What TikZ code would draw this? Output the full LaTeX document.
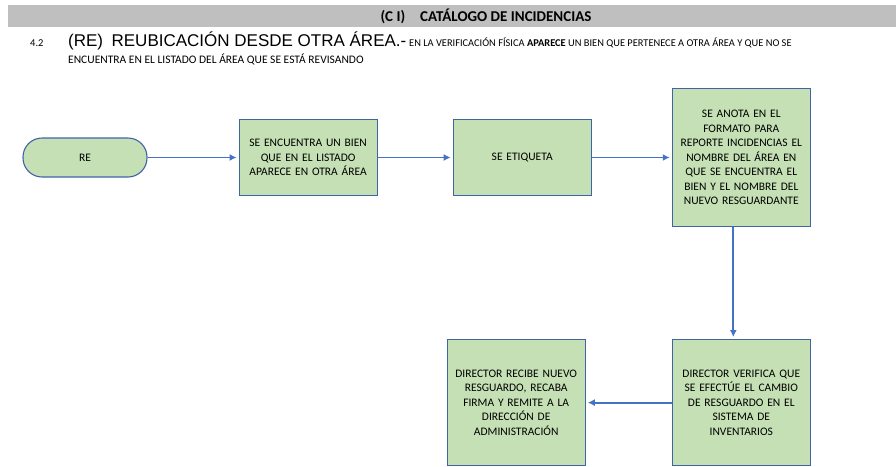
\documentclass[tikz,border=0pt]{standalone}
\usepackage{fontspec}
\setmainfont{Carlito}
\newfontfamily\encfont{Liberation Sans}
\usetikzlibrary{arrows.meta,positioning}
\definecolor{verde}{HTML}{C5E0B4}
\definecolor{borde}{HTML}{4064A8}
\definecolor{azul}{HTML}{4472C4}
\definecolor{banda}{HTML}{BFBFBF}
\newcommand{\notachica}[2][11.5]{{\normalfont\fontsize{#1}{13}\selectfont #2}}
\tikzset{%
  etapa/.style={draw=borde, fill=verde, line width=1.1pt, text width=134pt, align=center, minimum width=138pt, minimum height=76pt, inner sep=1pt, font=\fontsize{11.5}{14.5}\selectfont},
  inicio/.style={etapa, text width=110pt, minimum width=124pt, minimum height=39pt, rounded corners=19pt},
  line/.style={draw, line width=1.8pt, color=azul, -{Latex[length=7pt,width=7pt]}, shorten >=2pt},
}

\begin{document}
\begin{tikzpicture}[x=1pt,y=-1pt]
  \useasboundingbox (0,0) rectangle (896,466);
  % cabecera
  \fill [banda] (8,4.5) rectangle (896,27);
  \node (titulo) at (486,16) {\fontsize{15}{17}\selectfont\bfseries (C I)\quad CATÁLOGO DE INCIDENCIAS};
  \node (num) [anchor=base west, inner sep=0pt] at (30,46) {\fontsize{10.5}{12}\selectfont 4.2};
  \node (enc) [anchor=base west, inner sep=0pt] at (68,46) {\encfont\fontsize{17}{19}\selectfont (RE)\enspace REUBICACIÓN DESDE OTRA ÁREA.-\thinspace\notachica[10.4]{EN LA VERIFICACIÓN FÍSICA \textbf{APARECE} UN BIEN QUE PERTENECE A OTRA ÁREA Y QUE NO SE}};
  \node (enc2) [anchor=base west, inner sep=0pt] at (68,63) {\notachica{ENCUENTRA EN EL LISTADO DEL ÁREA QUE SE ESTÁ REVISANDO}};

  % diagrama
  \node (re) [inicio] at (85,157.5) {RE};
  \node (bien) [etapa, right=91pt of re] {SE ENCUENTRA UN BIEN\\ QUE EN EL LISTADO\\ APARECE EN OTRA ÁREA};
  \node (etiq) [etapa, right=75pt of bien] {SE ETIQUETA};
  \node (anota) [etapa, right=80pt of etiq, minimum height=138pt] {SE ANOTA EN EL\\ FORMATO PARA\\ REPORTE INCIDENCIAS EL\\ NOMBRE DEL ÁREA EN\\ QUE SE ENCUENTRA EL\\ BIEN Y EL NOMBRE DEL\\ NUEVO RESGUARDANTE};
  \node (verif) [etapa, below=112pt of anota, minimum height=126pt] {DIRECTOR VERIFICA QUE\\ SE EFECTÚE EL CAMBIO\\ DE RESGUARDO EN EL\\ SISTEMA DE\\ INVENTARIOS};
  \node (recibe) [etapa, left=86pt of verif, minimum height=126pt] {DIRECTOR RECIBE NUEVO\\ RESGUARDO, RECABA\\ FIRMA Y REMITE A LA\\ DIRECCIÓN DE\\ ADMINISTRACIÓN};

  \path [line] (re) -- (bien);
  \path [line] (bien) -- (etiq);
  \path [line] (etiq) -- (anota);
  \path [line] ([xshift=-8pt]anota.south) -- ([xshift=-8pt]verif.north);
  \path [line] (verif) -- (recibe);
\end{tikzpicture}
\end{document}
